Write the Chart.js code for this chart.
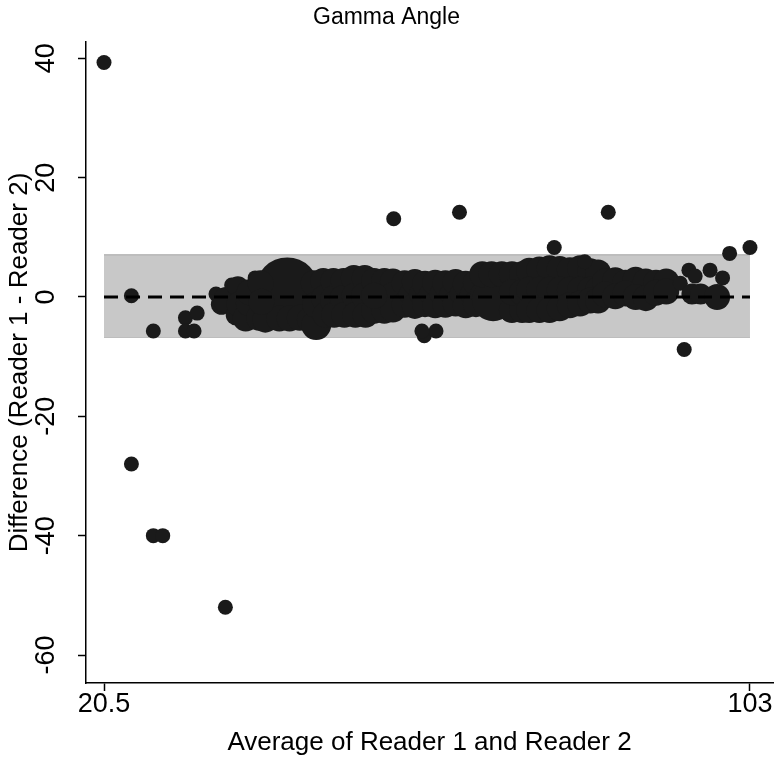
<!DOCTYPE html>
<html>
<head>
<meta charset="utf-8">
<script src="https://cdn.jsdelivr.net/npm/chart.js@4/dist/chart.umd.min.js"></script>
<style>
  html, body { margin: 0; padding: 0; background: #ffffff; }
  #wrap { width: 775px; height: 759px; }
</style>
</head>
<body>
<div id="wrap"><canvas id="c" width="775" height="759"></canvas></div>
<script>
// ---- data (average, difference, frequency of each marker) ----
const avgValues = [
  // far outliers, left
  20.5, 24.0, 24.0, 26.8, 26.8, 28.0, 36.0, 30.9, 32.4, 30.9, 32.0, 34.8,
  // 35-40
  35.5, 36.1, 36.8, 37.4, 37.6, 37.8, 38.5, 38.6, 39.0, 39.1, 39.8,
  // 40-48
  43.9, 40.3, 41.1, 42.9, 44.2, 45.5, 46.8, 47.6, 40.5, 40.6, 47.3, 47.5,
  // 48-52
  48.5, 48.6, 48.8, 49.8, 50.0, 49.9, 51.1, 51.0, 51.2,
  // 52-54.5
  52.4, 52.5, 52.6, 53.8, 53.7, 53.9,
  // 54.5-57.7
  55.0, 55.0, 56.0, 56.3, 56.3, 57.4, 57.4, 57.4, 55.0,
  // 57.7-68.5
  58.9, 58.9, 59.5, 60.2, 60.2, 60.8, 61.5, 61.5, 62.1, 62.8, 62.8, 63.4,
  64.1, 64.1, 64.7, 65.4, 65.4, 66.0, 66.7, 66.7, 67.3, 68.0, 68.0, 68.6,
  61.4, 62.9, 61.1, 57.5, 65.9,
  // 68.5-74.3
  70.2, 68.8, 70.0, 71.3, 72.6, 73.9, 72.6, 73.9, 72.6, 73.9,
  // 74.3-83.8
  74.8, 76.1, 77.4, 78.7, 80.0, 81.3, 82.6, 83.6,
  74.8, 76.1, 77.4, 78.7, 80.0, 81.3, 82.6, 83.6,
  74.8, 76.1, 77.4, 78.7, 80.0, 81.3, 82.6, 83.6,
  78.0, 84.9, 81.9,
  // 83.8-93
  84.5, 85.8, 87.1, 88.4, 89.7, 91.0, 92.3,
  84.5, 85.8, 87.1, 88.4, 89.7, 91.0, 92.3,
  // right end
  94.1, 95.2, 96.0, 95.6, 96.7, 97.9, 98.8, 99.5, 100.4, 103.0, 94.6
];
const diffValues = [
  39.3, 0.2, -28.0, -5.7, -40.0, -40.0, -52.0, -3.5, -2.7, -5.7, -5.7, 0.5,
  -1.2, -0.5, 2.0, -3.0, 1.7, -1.2, -4.2, -3.6, -1.0, 0.8, 3.2,
  1.3, -3.5, -3.8, -3.6, -3.6, -3.5, -3.8, -4.7, 2.3, -0.8, 2.3, -1.3,
  2.7, -0.2, -3.0, 2.7, -0.5, -3.0, 2.7, -0.2, -3.0,
  3.2, 0.2, -3.0, 3.2, 0.2, -3.0,
  2.7, -2.3, 0.2, 2.7, -2.3, 2.6, 0.3, -2.1, 0.2,
  2.3, -1.3, 0.5, 2.5, -1.5, 0.5, 2.2, -1.2, 0.5, 2.4, -1.4, 0.5,
  2.3, -1.3, 0.5, 2.5, -1.1, 0.5, 2.2, -1.4, 0.5, 2.4, -1.2, 0.5,
  -6.5, -5.7, -5.7, 13.1, 14.2,
  -0.5, 3.8, 3.8, 3.8, 3.8, 3.8, -2.2, -2.2, 0.8, 0.8,
  4.4, 4.6, 4.8, 4.7, 4.5, 4.8, 4.3, 4.1,
  1.2, 1.2, 1.2, 1.2, 1.2, 1.2, 1.2, 1.2,
  -2.2, -2.2, -2.2, -1.9, -1.4, -1.1, -0.6, -0.6,
  8.3, 14.2, 5.9,
  2.6, 2.8, 2.4, 2.9, 2.6, 2.4, 2.6,
  0.4, 0.1, 0.6, 0.0, -0.2, 0.7, 0.9,
  2.3, 4.5, 3.5, 0.5, 0.5, 4.5, 0.0, 3.2, 7.3, 8.3, -8.8
];
const freqValues = [
  1, 1, 1, 1, 1, 1, 1, 1, 1, 1, 1, 1,
  2, 3, 1, 2, 2, 3, 1, 3, 3, 3, 1,
  18, 3, 3, 3, 3, 3, 3, 4, 3, 3, 3, 3,
  3, 3, 3, 3, 4, 3, 3, 3, 3,
  3, 3, 3, 3, 3, 3,
  3, 3, 3, 3, 3, 3, 3, 3, 3,
  3, 3, 2, 3, 3, 2, 3, 3, 2, 3, 3, 2,
  3, 3, 2, 3, 3, 2, 3, 3, 2, 3, 3, 2,
  1, 1, 1, 1, 1,
  8, 3, 3, 3, 3, 3, 3, 3, 3, 3,
  3, 3, 3, 3, 3, 3, 3, 3,
  3, 3, 3, 3, 3, 3, 3, 3,
  3, 3, 3, 3, 3, 3, 3, 3,
  1, 1, 1,
  3, 3, 3, 3, 3, 3, 3,
  3, 3, 3, 3, 3, 3, 3,
  1, 1, 1, 2, 2, 1, 3, 1, 1, 1, 1
];
const meanDiff = 0;
const upperLimit = 7.04;
const lowerLimit = -6.7;
const xTickValues = [20.5, 103];
const yTickValues = [-60, -40, -20, 0, 20, 40];
const xRange = [20.5, 103];

// ---- build datasets ----
const bubblePoints = avgValues.map((x, i) => ({ x: x, y: diffValues[i], r: 7.5 * Math.sqrt(freqValues[i]) }));
const FONT = "'Liberation Sans', Arial, Helvetica, sans-serif";

new Chart(document.getElementById('c'), {
  data: {
    datasets: [
      {
        type: 'line',
        label: 'mean',
        data: xRange.map(x => ({ x: x, y: meanDiff })),
        borderColor: '#000000',
        borderWidth: 3,
        borderDash: [14, 8],
        pointRadius: 0,
        fill: false
      },
      {
        type: 'bubble',
        label: 'diff',
        data: bubblePoints,
        backgroundColor: '#1a1a1a',
        borderColor: '#1a1a1a',
        borderWidth: 0
      },
      {
        type: 'line',
        label: 'upper',
        data: xRange.map(x => ({ x: x, y: upperLimit })),
        borderColor: '#bdbdbd',
        borderWidth: 2,
        backgroundColor: '#c8c8c8',
        pointRadius: 0,
        fill: '+1'
      },
      {
        type: 'line',
        label: 'lower',
        data: xRange.map(x => ({ x: x, y: lowerLimit })),
        borderColor: '#bdbdbd',
        borderWidth: 2,
        pointRadius: 0,
        fill: false
      }
    ]
  },
  options: {
    responsive: false,
    animation: false,
    events: [],
    layout: { autoPadding: false, padding: { left: 0, right: 2, top: 0, bottom: 0 } },
    plugins: {
      legend: { display: false },
      tooltip: { enabled: false },
      title: {
        display: true,
        text: 'Gamma Angle',
        color: '#000000',
        font: { family: FONT, size: 23, weight: 'normal', lineHeight: 1.2 },
        padding: { top: 4, bottom: 10.4 }
      }
    },
    scales: {
      x: {
        type: 'linear',
        min: 18.2,
        max: 105.94,
        afterBuildTicks: axis => { axis.ticks = xTickValues.map(v => ({ value: v })); },
        afterFit: s => { s.height = 76; s.paddingLeft = 0; s.paddingRight = 0; },
        grid: { display: true, drawOnChartArea: false, drawTicks: true, tickLength: 8, tickColor: '#000000', tickWidth: 1.5 },
        border: { display: true, color: '#000000', width: 1.5 },
        ticks: {
          color: '#000000',
          font: { family: FONT, size: 27, lineHeight: 1 },
          padding: 0,
          maxRotation: 0,
          autoSkip: false,
          callback: v => String(v)
        },
        title: {
          display: true,
          text: 'Average of Reader 1 and Reader 2',
          color: '#000000',
          font: { family: FONT, size: 26, lineHeight: 1 },
          padding: { top: 0, bottom: 3 }
        }
      },
      y: {
        type: 'linear',
        min: -64.69,
        max: 42.73,
        afterBuildTicks: axis => { axis.ticks = yTickValues.map(v => ({ value: v })); },
        afterFit: s => { s.width = 86; s.paddingTop = 0; s.paddingBottom = 0; },
        grid: { display: true, drawOnChartArea: false, drawTicks: true, tickLength: 8, tickColor: '#000000', tickWidth: 1.5 },
        border: { display: true, color: '#000000', width: 1.5 },
        ticks: {
          color: '#000000',
          font: { family: FONT, size: 27, lineHeight: 1 },
          padding: 12,
          minRotation: 90,
          maxRotation: 90,
          crossAlign: 'center',
          autoSkip: false,
          callback: v => String(v)
        },
        title: {
          display: true,
          text: 'Difference (Reader 1 - Reader 2)',
          color: '#000000',
          font: { family: FONT, size: 26, lineHeight: 1 },
          padding: { top: 7, bottom: 0 }
        }
      }
    }
  }
});
</script>
</body>
</html>
